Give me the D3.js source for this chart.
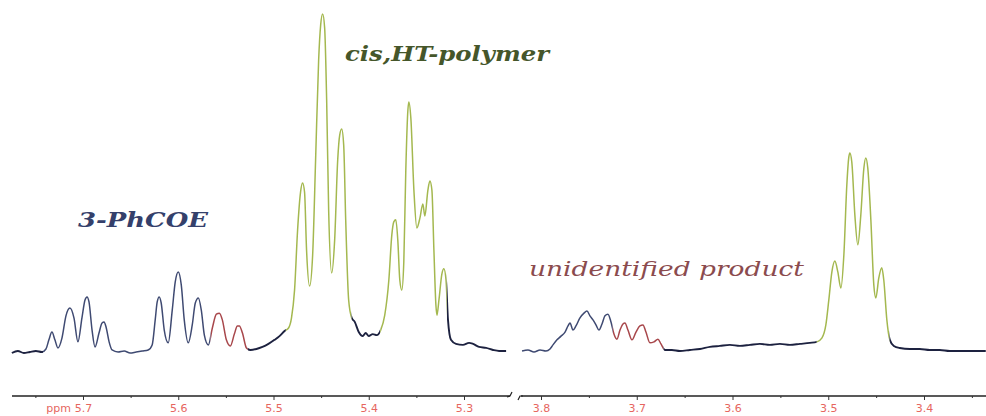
<!DOCTYPE html>
<html>
<head>
<meta charset="utf-8">
<script src="https://cdn.jsdelivr.net/npm/d3@7"></script>
<style>
  body { margin: 0; background: #fff; }
  .tick text { font-family: "DejaVu Sans", sans-serif; font-size: 11px; fill: #e66660; }
  .label { font-family: "DejaVu Serif", serif; font-style: italic; }
</style>
</head>
<body>
<div id="chart"></div>
<script>
// Spectrum: chemical shift (ppm) and relative intensity (tallest peak = 100)
const leftPpm = [5.7747, 5.7684, 5.7621, 5.7558, 5.7495, 5.7432, 5.7389, 5.7358, 5.7326, 5.7295, 5.7263,
  5.7221, 5.7179, 5.7137, 5.7095, 5.7053, 5.7011, 5.6979, 5.6958, 5.6937, 5.6905, 5.6874, 5.6832, 5.6800,
  5.6779, 5.6758, 5.6726, 5.6695, 5.6632, 5.6568, 5.6505, 5.6442, 5.6379, 5.6316, 5.6274, 5.6242, 5.6221,
  5.6200, 5.6179, 5.6147, 5.6105, 5.6063, 5.6032, 5.6000, 5.5968, 5.5937, 5.5895, 5.5853, 5.5821, 5.5789,
  5.5758, 5.5726, 5.5684, 5.5642, 5.5600, 5.5568, 5.5537, 5.5495, 5.5453, 5.5411, 5.5379, 5.5358, 5.5326,
  5.5284, 5.5242, 5.5179, 5.5116, 5.5053, 5.4989, 5.4937, 5.4884, 5.4842, 5.4811, 5.4779, 5.4747, 5.4716,
  5.4695, 5.4674, 5.4653, 5.4621, 5.4589, 5.4558, 5.4526, 5.4505, 5.4484, 5.4463, 5.4442, 5.4421, 5.4389,
  5.4358, 5.4326, 5.4305, 5.4284, 5.4263, 5.4242, 5.4211, 5.4179, 5.4147, 5.4105, 5.4063, 5.4032, 5.4000,
  5.3958, 5.3916, 5.3874, 5.3832, 5.3789, 5.3758, 5.3737, 5.3716, 5.3695, 5.3674, 5.3653, 5.3632, 5.3611,
  5.3589, 5.3579, 5.3558, 5.3526, 5.3495, 5.3463, 5.3432, 5.3411, 5.3379, 5.3358, 5.3337, 5.3316, 5.3295,
  5.3284, 5.3263, 5.3232, 5.3211, 5.3189, 5.3168, 5.3137, 5.3084, 5.3011, 5.2947, 5.2905, 5.2842, 5.2768,
  5.2695, 5.2632, 5.2558];
const leftInt = [-0.3, 0.3, -0.3, 0, 0.3, 0, 0.9, 3.6, 5.9, 3.6, 1.2,
  4.1, 10.7, 13.0, 10.1, 3.0, 10.1, 15.4, 16.3, 14.8, 6.5, 1.5, 5.6, 8.6,
  8.9, 7.4, 3.0, 0.6, 0, 0.3, -0.3, 0, 0.3, 0.6, 2.1, 9.5, 14.8,
  16.3, 14.5, 6.5, 2.7, 12.4, 20.7, 23.7, 19.8, 9.5, 2.7, 8.0, 14.5, 16.0,
  12.4, 5.0, 2.1, 7.1, 11.2, 11.5, 9.5, 3.6, 1.8, 5.3, 7.7, 7.7, 5.6,
  1.2, 0.6, 0.9, 1.5, 2.4, 3.6, 4.7, 6.2, 7.1, 10.1, 18.3, 36.1, 47.3,
  50.0, 47.3, 30.2, 19.5, 28.7, 56.8, 86.4, 96.7, 100, 95.9, 74.6, 42.0, 23.4,
  33.1, 56.8, 64.2, 66.0, 61.2, 39.1, 15.4, 10.1, 8.9, 5.9, 4.7, 5.6, 4.7,
  5.3, 5.0, 6.5, 10.9, 21.3, 34.6, 38.5, 39.1, 33.1, 21.3, 18.3, 26.6, 53.8,
  71.6, 74.0, 69.2, 47.9, 36.7, 39.6, 43.8, 40.2, 47.9, 50.6, 47.9, 30.2, 13.9,
  10.9, 15.4, 23.1, 24.6, 21.3, 9.5, 3.6, 2.4, 2.1, 2.7, 2.4, 1.5, 1.2,
  0.6, 0.3, 0.3];

const rightPpm = [3.8198, 3.8136, 3.8073, 3.8010, 3.7948, 3.7906, 3.7875, 3.7833, 3.7791, 3.7749, 3.7718,
  3.7697, 3.7666, 3.7635, 3.7593, 3.7551, 3.7520, 3.7489, 3.7457, 3.7426, 3.7395, 3.7363, 3.7332, 3.7301,
  3.7269, 3.7238, 3.7207, 3.7175, 3.7144, 3.7123, 3.7092, 3.7050, 3.7008, 3.6967, 3.6935, 3.6904, 3.6862,
  3.6820, 3.6779, 3.6747, 3.6706, 3.6633, 3.6549, 3.6445, 3.6340, 3.6236, 3.6132, 3.6027, 3.5923, 3.5818,
  3.5714, 3.5610, 3.5505, 3.5401, 3.5296, 3.5192, 3.5119, 3.5067, 3.5025, 3.4994, 3.4962, 3.4931, 3.4900,
  3.4868, 3.4837, 3.4806, 3.4785, 3.4775, 3.4754, 3.4722, 3.4691, 3.4660, 3.4628, 3.4608, 3.4587, 3.4555,
  3.4524, 3.4503, 3.4472, 3.4441, 3.4420, 3.4388, 3.4357, 3.4315, 3.4253, 3.4148, 3.4044, 3.3939, 3.3835,
  3.3731, 3.3626, 3.3522, 3.3355];
const rightInt = [0.3, 0.6, 0, 0.6, 0.3, 0.9, 2.1, 3.6, 4.7, 5.9, 7.7,
  8.6, 6.5, 7.7, 10.1, 11.5, 12.1, 10.7, 9.5, 8.0, 6.5, 8.3, 10.7, 11.2,
  8.9, 5.3, 3.8, 6.5, 8.3, 8.6, 6.5, 3.6, 5.9, 7.7, 8.0, 5.9, 2.7,
  3.0, 3.8, 2.4, 0.6, 0.6, 0.3, 0.6, 0.9, 1.5, 1.8, 2.1, 1.8, 2.1,
  2.4, 2.1, 2.4, 2.1, 2.4, 2.7, 3.0, 4.1, 8.0, 15.4, 23.7, 26.9, 23.7,
  18.9, 28.7, 49.4, 57.7, 58.9, 56.2, 40.5, 31.7, 40.5, 54.4, 57.4, 54.4, 39.1,
  19.8, 16.0, 21.9, 24.9, 21.3, 9.5, 3.6, 1.8, 1.2, 0.9, 0.9, 0.6, 0.6,
  0.3, 0.3, 0.3, 0.3];

// Colour assignment of the trace: [from ppm, to ppm, group]
const leftGroups = [[5.80, 5.742, "base"], [5.742, 5.566, "phcoe"], [5.566, 5.527, "unknown"],
  [5.527, 5.487, "base"], [5.487, 5.418, "polymer"], [5.418, 5.388, "base"],
  [5.388, 5.318, "polymer"], [5.318, 5.20, "base"]];
const rightGroups = [[3.85, 3.725, "phcoe"], [3.725, 3.672, "unknown"], [3.672, 3.512, "base"],
  [3.512, 3.436, "polymer"], [3.436, 3.30, "base"]];

const leftMajor = [5.7, 5.6, 5.5, 5.4, 5.3];
const leftMinor = [5.75, 5.65, 5.55, 5.45, 5.35];
const rightMajor = [3.8, 3.7, 3.6, 3.5, 3.4];
const rightMinor = [3.75, 3.65, 3.55, 3.45, 3.35];

const colors = { base: "#1d2240", phcoe: "#3f4a72", unknown: "#a8474b", polymer: "#a4b84f" };

const W = 986, H = 416, axisY = 396;

const svg = d3.select("#chart").append("svg")
  .attr("width", W).attr("height", H);

const y = d3.scaleLinear().domain([0, 100]).range([352, 14]);

function panel(id, ppm, vals, groups, xs, x0, x1, major, minor) {
  const pts = ppm.map((p, i) => ({ p: p, v: vals[i] }));
  const line = d3.line().x(d => xs(d.p)).y(d => y(d.v)).curve(d3.curveMonotoneX);
  groups.forEach((g, i) => {
    const a = xs(g[0]), b = xs(g[1]);
    svg.append("clipPath").attr("id", id + i)
      .append("rect").attr("x", Math.min(a, b)).attr("y", 0)
      .attr("width", Math.abs(b - a)).attr("height", H);
    svg.append("path").datum(pts)
      .attr("clip-path", "url(#" + id + i + ")")
      .attr("fill", "none")
      .attr("stroke", colors[g[2]])
      .attr("stroke-width", g[2] == "base" ? 1.9 : 1.5)
      .attr("stroke-linejoin", "round")
      .attr("d", line);
  });

  // axis line
  svg.append("line").attr("x1", x0).attr("x2", x1)
    .attr("y1", axisY).attr("y2", axisY)
    .attr("stroke", "#222").attr("stroke-width", 1.3);

  const gMaj = svg.append("g").attr("transform", "translate(0," + axisY + ")")
    .call(d3.axisBottom(xs).tickValues(major).tickSize(4).tickPadding(4).tickFormat(d3.format(".1f")));
  gMaj.select(".domain").remove();
  gMaj.selectAll(".tick line").attr("stroke", "#333");

  const gMin = svg.append("g").attr("transform", "translate(0," + axisY + ")")
    .call(d3.axisBottom(xs).tickValues(minor).tickSize(2).tickFormat(""));
  gMin.select(".domain").remove();
  gMin.selectAll(".tick line").attr("stroke", "#333");
  return gMaj;
}

const xLeft = d3.scaleLinear().domain([5.7, 5.3]).range([83, 464]);
const xRight = d3.scaleLinear().domain([3.8, 3.4]).range([541, 924]);

panel("cl", leftPpm, leftInt, leftGroups, xLeft, 12, 510, leftMajor, leftMinor);
panel("cr", rightPpm, rightInt, rightGroups, xRight, 521, 986, rightMajor, rightMinor);

// "ppm" unit label before the first tick
svg.append("text").attr("x", xLeft(5.7) - 12).attr("y", axisY + 16)
  .attr("text-anchor", "end")
  .style("font-family", "DejaVu Sans, sans-serif").style("font-size", "11px")
  .attr("fill", "#e66660").text("ppm");

// axis break marks
svg.append("path").attr("d", "M507,397 L510,396 L512,392")
  .attr("fill", "none").attr("stroke", "#222").attr("stroke-width", 1.2);
svg.append("path").attr("d", "M518,400 L520,396 L523,396")
  .attr("fill", "none").attr("stroke", "#222").attr("stroke-width", 1.2);

// peak labels
svg.append("text").attr("class", "label")
  .attr("x", 78).attr("y", 227)
  .attr("textLength", 130).attr("lengthAdjust", "spacingAndGlyphs")
  .style("font-size", "20px").style("font-weight", "bold")
  .attr("fill", "#34406b").text("3-PhCOE");

svg.append("text").attr("class", "label")
  .attr("x", 345).attr("y", 61)
  .attr("textLength", 204).attr("lengthAdjust", "spacingAndGlyphs")
  .style("font-size", "21px").style("font-weight", "bold")
  .attr("fill", "#45562a").text("cis,HT-polymer");

svg.append("text").attr("class", "label")
  .attr("x", 529).attr("y", 276)
  .attr("textLength", 275).attr("lengthAdjust", "spacingAndGlyphs")
  .style("font-size", "20px")
  .attr("fill", "#8b4b4e").text("unidentified product");
</script>
</body>
</html>
